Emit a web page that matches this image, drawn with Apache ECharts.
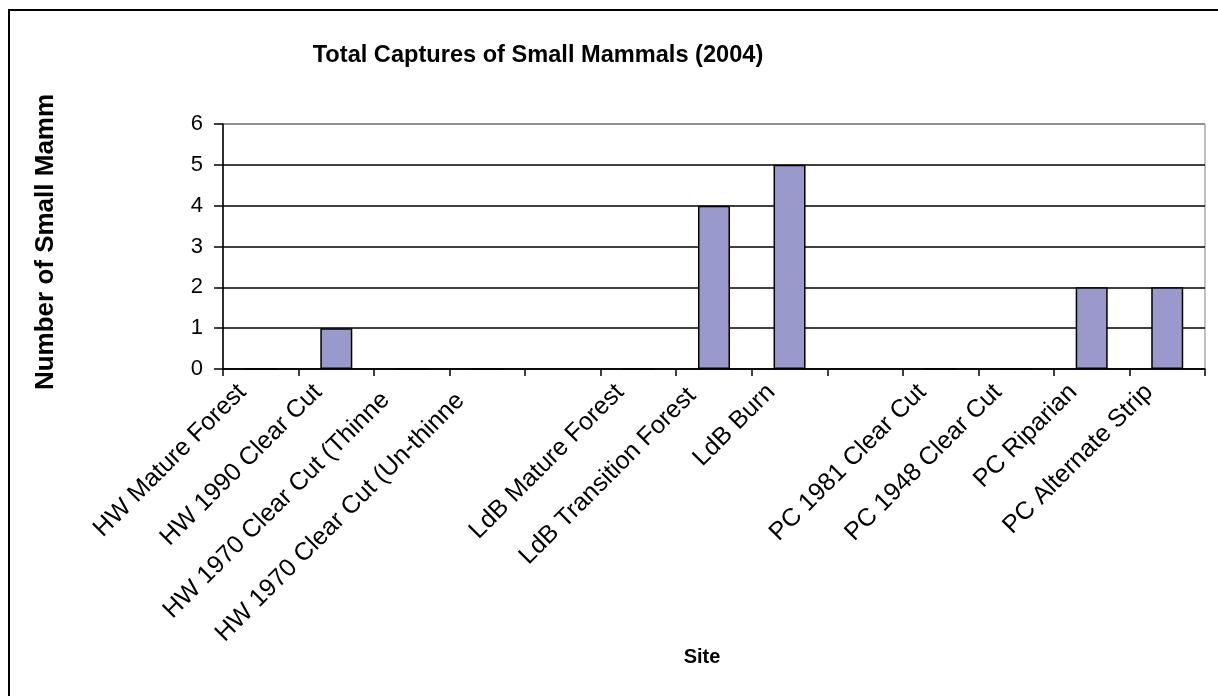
<!DOCTYPE html>
<html>
<head>
<meta charset="utf-8">
<script src="https://cdn.jsdelivr.net/npm/echarts@6/dist/echarts.min.js"></script>
<style>
  html, body { margin: 0; padding: 0; background: #fff; }
  #chart { width: 1218px; height: 696px; }
</style>
</head>
<body>
<div id="chart"></div>
<script>
// site labels as they show on the axis (Excel clipped the long ones)
const sites = [
  "HW Mature Forest",
  "HW 1990 Clear Cut",
  "HW 1970 Clear Cut (Thinne",
  "HW 1970 Clear Cut (Un-thinne",
  "",
  "LdB Mature Forest",
  "LdB Transition Forest",
  "LdB Burn",
  "",
  "PC 1981 Clear Cut",
  "PC 1948 Clear Cut",
  "PC Riparian",
  "PC Alternate Strip",
];
const captures = [0, 1, 0, 0, null, 0, 4, 5, null, 0, 0, 2, 2];
const yTicks = [0, 1, 2, 3, 4, 5, 6];
// extra sideways nudge (px) for labels Excel placed further left
const labelNudge = [0, 0, 11, 12, 0, 0, 5, 0, 0, 0, 0, 0, 0];

const font = "'Liberation Sans', Arial, sans-serif";

const chart = echarts.init(document.getElementById("chart"), null, {
  renderer: "canvas",
});

const option = {
  animation: false,
  backgroundColor: "#fff",
  title: {
    text: "Total Captures of Small Mammals (2004)",
    left: 533,
    textAlign: "center",
    top: 38,
    textStyle: { fontFamily: font, fontSize: 23.6, fontWeight: "bold", color: "#000" },
  },
  graphic: [
    {
      type: "rect",
      shape: { x: 9, y: 10, width: 1400, height: 900 },
      style: { fill: null, stroke: "#000", lineWidth: 2 },
      silent: true,
    },
    {
      type: "text",
      x: 46,
      y: 242,
      rotation: Math.PI / 2,
      style: {
        text: "Number of Small Mamm",
        font: "bold 26px " + font,
        fill: "#000",
        align: "center",
        verticalAlign: "middle",
      },
    },
    {
      type: "text",
      x: 702,
      y: 657,
      style: {
        text: "Site",
        font: "bold 20px " + font,
        fill: "#000",
        align: "center",
        verticalAlign: "middle",
      },
    },
  ],
  grid: {
    left: 223,
    right: 13,
    top: 124,
    bottom: 327,
    show: true,
    borderColor: "#808080",
    borderWidth: 1,
  },
  xAxis: {
    type: "category",
    data: sites.map((s, i) => ({
      value: s,
      textStyle: { padding: [0, 26 + labelNudge[i], 2 * labelNudge[i], 0] },
    })),
    axisLine: { lineStyle: { color: "#000", width: 1.5 } },
    axisTick: { show: true, length: 7, lineStyle: { color: "#000", width: 1.5 } },
    axisLabel: {
      interval: 0,
      rotate: 45,
      margin: 1,
      padding: [0, 26, 0, 0],
      fontFamily: font,
      fontSize: 25,
      color: "#000",
    },
  },
  yAxis: {
    type: "value",
    min: 0,
    max: 6,
    interval: 1,
    axisLine: { show: true, lineStyle: { color: "#000", width: 1.5 } },
    axisTick: { show: true, length: 9, lineStyle: { color: "#000", width: 1.5 } },
    axisLabel: {
      margin: 20,
      fontFamily: font,
      fontSize: 22,
      color: "#000",
      formatter: (v) => (yTicks.includes(v) ? String(v) : ""),
    },
    splitLine: {
      show: true,
      lineStyle: {
        color: ["#000", "#000", "#000", "#000", "#000", "#000", "#808080"],
        width: 1.5,
      },
    },
  },
  series: [
    {
      type: "bar",
      data: captures,
      barWidth: 32,
      itemStyle: { color: "#9999CC", borderColor: "#000", borderWidth: 1.5 },
    },
  ],
};
chart.setOption(option);
</script>
</body>
</html>
